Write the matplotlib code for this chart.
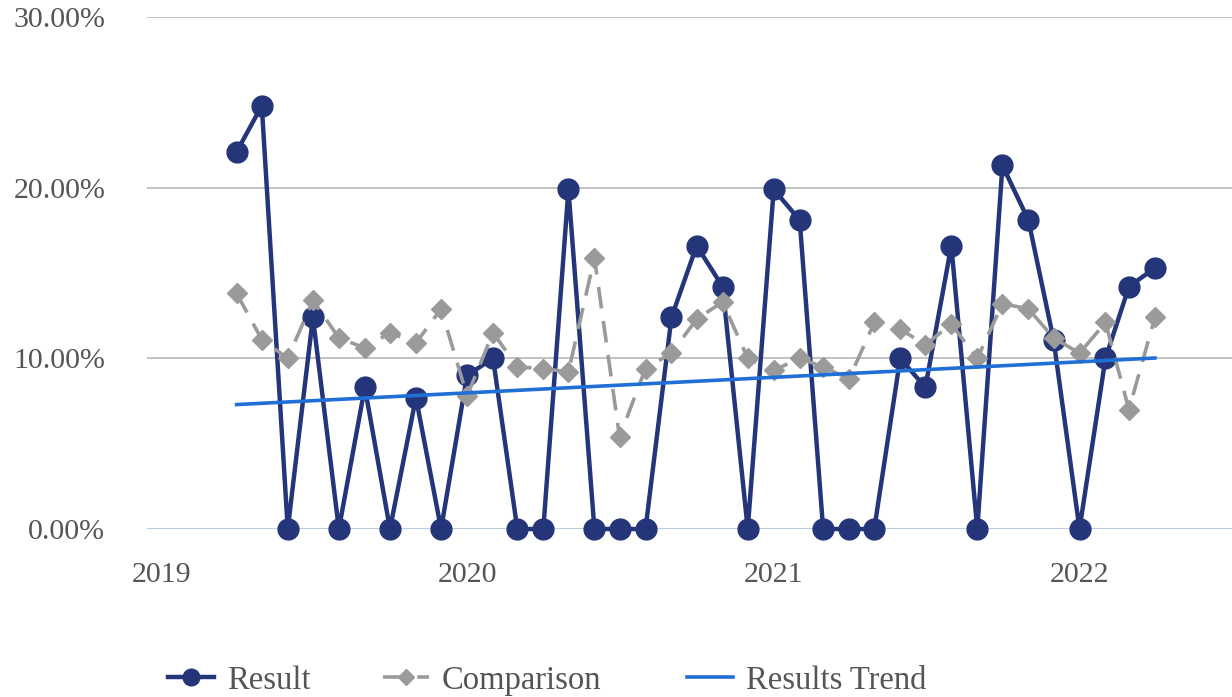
import numpy as np
import pandas as pd
import matplotlib
matplotlib.use("Agg")
import matplotlib.pyplot as plt
import matplotlib.dates as mdates
from matplotlib.ticker import FuncFormatter

# monthly data, Apr 2019 - Apr 2022 (values in %)
months = pd.date_range("2019-04-01", periods=37, freq="MS")
result = [22.1, 24.8, 0.0, 12.4, 0.0, 8.3, 0.0, 7.7, 0.0, 9.0,
          10.0, 0.0, 0.0, 19.9, 0.0, 0.0, 0.0, 12.4, 16.6, 14.2,
          0.0, 19.9, 18.1, 0.0, 0.0, 0.0, 10.0, 8.3, 16.6, 0.0,
          21.3, 18.1, 11.1, 0.0, 10.0, 14.2, 15.3]
comparison = [13.8, 11.1, 10.0, 13.4, 11.2, 10.6, 11.5, 10.9, 12.9, 7.8,
              11.5, 9.5, 9.4, 9.2, 15.9, 5.4, 9.4, 10.3, 12.3, 13.3,
              10.0, 9.3, 10.0, 9.5, 8.8, 12.1, 11.7, 10.8, 12.0, 10.0,
              13.2, 12.9, 11.2, 10.3, 12.1, 7.0, 12.4]
year_ticks = ["2019", "2020", "2021", "2022"]

navy = "#243579"
grey = "#9a9a9a"
trend_blue = "#1f6fd6"
txt = "#555555"

plt.rcParams['font.family'] = ['Liberation Serif', 'DejaVu Serif']

fig = plt.figure(figsize=(12.32, 6.97), dpi=100)
ax = fig.add_axes([147 / 1232, 1 - 529 / 697, 1 - 147 / 1232, (529 - 17) / 697])

# linear trend of the results
xnum = mdates.date2num(months)
k, b = np.polyfit(xnum, result, 1)
trend = k * xnum + b

l1, = ax.plot(months, result, color=navy, lw=3.2, marker="o", ms=15,
              clip_on=False, zorder=3, label="Result")
l2, = ax.plot(months, comparison, color=grey, lw=2.6, ls=(0, (6, 3.5)), marker="D",
              ms=10, clip_on=False, zorder=4, label="Comparison")
l3, = ax.plot(months, trend, color=trend_blue, lw=2.6, zorder=5, label="Results Trend")

ax.set_ylim(0, 30)
ax.set_yticks([0, 10, 20, 30])
ax.yaxis.set_major_formatter(FuncFormatter(lambda v, p: f"{v:.2f}%"))
ax.set_xlim(pd.Timestamp("2018-12-15"), pd.Timestamp("2022-07-02"))
ax.set_xticks([pd.Timestamp(f"{y}-01-01") for y in year_ticks])
ax.set_xticklabels(year_ticks)

for s in ax.spines.values():
    s.set_visible(False)
ax.grid(axis="y", color="#bdbdbd", lw=1.3)
ax.axhline(0, color="#b9cde6", lw=1.4, zorder=1)
ax.set_axisbelow(True)

ax.tick_params(axis="both", length=0, colors=txt, labelsize=21.5)
ax.tick_params(axis="y", pad=30)
ax.tick_params(axis="x", pad=24)

# one legend per entry, placed like the reference
for line, x0 in [(l1, 168), (l2, 383), (l3, 687)]:
    fig.legend(handles=[line], loc="center left", bbox_to_anchor=(x0 / 1232, 0.024),
               frameon=False, fontsize=23.5, labelcolor=txt, handlelength=1.4,
               handletextpad=0.4, borderpad=0, borderaxespad=0, markerscale=0.8)

fig.savefig("out.png", dpi=100)
